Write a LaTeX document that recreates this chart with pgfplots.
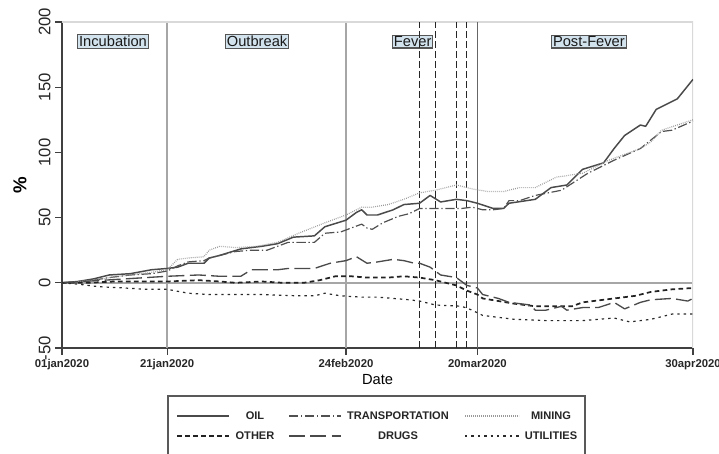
\documentclass[border=0pt]{standalone}
\usepackage{fontspec}
\setmainfont{Liberation Sans}
\setsansfont{Liberation Sans}
\usepackage{pgfplots}
\pgfplotsset{compat=1.18}
\definecolor{oilc}{HTML}{4A4A4A}
\definecolor{trac}{HTML}{505050}
\definecolor{minc}{HTML}{999999}
\definecolor{othc}{HTML}{222222}
\definecolor{drgc}{HTML}{4A4A4A}
\definecolor{utic}{HTML}{2A2A2A}
\definecolor{phasefill}{HTML}{D3E3EE}
\definecolor{phasedraw}{HTML}{555555}
\tikzset{
 oilst/.style={oilc, line width=1.1pt},
 trast/.style={trac, line width=0.9pt, dash pattern=on 7pt off 2pt on 1pt off 2pt},
 minst/.style={minc, line width=0.9pt, dash pattern=on 0.6pt off 0.9pt},
 othst/.style={othc, line width=1.3pt, dash pattern=on 3.5pt off 2.5pt},
 drgst/.style={drgc, line width=1pt, dash pattern=on 12pt off 4pt},
 utist/.style={utic, line width=0.9pt, dash pattern=on 1.8pt off 3pt},
 legtxt/.style={font=\fontsize{8.3}{10}\selectfont\bfseries, text=black!85, inner sep=0pt, anchor=center},
}
\begin{document}
\begin{tikzpicture}
\begin{axis}[
 width=473.25pt, height=244.5pt, scale only axis,
 xmin=0, xmax=120, ymin=-50, ymax=200,
 axis x line*=bottom, axis y line*=left,
 axis line style={line width=1.4pt, color=black!75, -},
 xtick={0,20,54,79,120},
 xticklabels={01jan2020,21jan2020,24feb2020,20mar2020,30apr2020},
 ytick={-50,0,50,100,150,200},
 tick align=outside,
 major tick length=5pt,
 tick style={line width=1pt, black!75},
 xticklabel style={font=\fontsize{8.5}{10}\selectfont\bfseries, text=black!85},
 yticklabel style={rotate=90, anchor=south, font=\fontsize{12.5}{14}\selectfont, text=black!85},
 /pgf/number format/assume math mode=true,
 xlabel={Date},
 xlabel style={at={(axis description cs:0.5,-0.098)}, anchor=center, font=\fontsize{11}{13}\selectfont},
 ylabel={\%},
 ylabel style={at={(axis description cs:-0.0666,0.5)}, anchor=center, font=\fontsize{14}{16}\selectfont\bfseries},
 no markers,
 every axis plot/.append style={line join=round},
]
% reference lines
\draw[black!35, line width=1.1pt] (axis cs:20,-50) -- (axis cs:20,200);
\draw[black!35, line width=1.1pt] (axis cs:54,-50) -- (axis cs:54,200);
\draw[black!35, line width=1.1pt] (axis cs:0,0) -- (axis cs:120,0);
\draw[black!15, line width=0.8pt] (rel axis cs:0,1) -- (rel axis cs:1,1) -- (rel axis cs:1,0);
% phase labels
\node[fill=phasefill, draw=phasedraw, line width=0.8pt, inner xsep=1pt, inner ysep=1pt, font=\fontsize{11}{12}\selectfont, text=black!90] at (axis cs:9.7,185) {Incubation};
\node[fill=phasefill, draw=phasedraw, line width=0.8pt, inner xsep=1pt, inner ysep=1pt, font=\fontsize{11}{12}\selectfont, text=black!90] at (axis cs:37.1,185) {Outbreak};
\node[fill=phasefill, draw=phasedraw, line width=0.8pt, inner xsep=1pt, inner ysep=1pt, font=\fontsize{11}{12}\selectfont, text=black!90] at (axis cs:66.7,185) {Fever};
\node[fill=phasefill, draw=phasedraw, line width=0.8pt, inner xsep=1pt, inner ysep=1pt, font=\fontsize{11}{12}\selectfont, text=black!90] at (axis cs:100.2,185) {Post-Fever};
\draw[black!60, line width=1.2pt] (axis cs:79,-50) -- (axis cs:79,200);
\pgfplotsinvokeforeach{68,71,75,77}{
 \draw[black!85, line width=0.9pt, dash pattern=on 5pt off 2.5pt] (axis cs:#1,-50) -- (axis cs:#1,200);
}
% OIL
\addplot[oilst] coordinates {
(0,0) (3,1) (6,3) (9,6) (13,7) (17,10) (20,11) (22,12) (24,15) (27,15) (28,19) (30,21) (34,26) (38,28) (41,30) (44,35) (48,36) (50,43) (54,48) (56,54) (57,56) (58,52) (60,52) (63,56) (65,60) (68,61) (70,67) (72,62) (75,64) (77,63) (79,61) (82,57) (84,57) (85,61) (90,64) (93,73) (96,75) (99,87) (103,92) (105,103) (107,113) (110,121) (111,120) (113,133) (117,141) (120,156)};
% TRANSPORTATION
\addplot[trast] coordinates {
(0,0) (3,1) (6,2) (9,4) (13,6) (17,7) (20,9) (22,13) (24,16) (27,17) (28,19) (30,21) (33,24) (36,25) (39,25) (43,31) (48,31) (50,38) (53,39) (55,42) (57,45) (58,42) (59,41) (61,46) (64,51) (66,53) (68,57) (72,57) (76,57) (78,58) (80,56) (82,56) (84,57) (85,63) (87,63) (90,67) (95,71) (100,84) (105,94) (110,103) (114,116) (116,117) (120,124)};
% MINING
\addplot[minst] coordinates {
(0,0) (3,1) (6,2) (9,4) (13,6) (17,8) (20,10) (22,18) (24,19) (27,20) (28,25) (30,28) (33,27) (37,28) (41,31) (45,38) (50,46) (54,52) (55,54) (57,58) (59,58) (62,60) (65,64) (68,69) (71,71) (75,75) (78,72) (81,70) (84,70) (87,73) (90,73) (94,81) (99,84) (104,94) (110,103) (112,108) (114,117) (117,121) (120,125)};
% OTHER
\addplot[othst] coordinates {
(0,0) (5,0) (10,1) (15,1) (20,1) (26,2) (30,1) (33,0) (38,1) (42,0) (46,0) (49,2) (52,5) (55,5) (58,4) (62,4) (65,5) (68,4) (71,2) (75,-2) (77,-6) (79,-9) (80,-12) (83,-14) (86,-16) (90,-18) (94,-18) (97,-18) (99,-15) (105,-12) (109,-10) (112,-7) (116,-5) (120,-4)};
% DRUGS
\addplot[drgst] coordinates {
(0,0) (4,1) (8,2) (12,3) (16,4) (20,5) (26,6) (30,5) (34,5) (36,10) (41,10) (43,11) (48,11) (51,15) (54,17) (56,20) (58,15) (60,16) (63,18) (65,17) (67,15) (68,15) (70,12) (72,6) (75,4) (77,-2) (79,-4) (80,-9) (83,-12) (85,-15) (89,-17) (90,-21) (92,-21) (95,-18) (96,-21) (99,-19) (102,-19) (105,-15) (107,-20) (110,-15) (112,-13) (116,-12) (119,-14) (120,-12)};
% UTILITIES
\addplot[utist] coordinates {
(0,0) (3,-1) (7,-3) (12,-4) (16,-5) (20,-5) (24,-8) (28,-9) (33,-9) (38,-9) (45,-10) (48,-10) (50,-8) (53,-10) (57,-11) (60,-11) (63,-12) (66,-13) (68,-14) (71,-17) (76,-18) (78,-21) (80,-25) (86,-28) (92,-29) (99,-29) (105,-27) (108,-30) (112,-28) (116,-24) (120,-24)};
\coordinate (bl) at (rel axis cs:0,0);
\coordinate (tr) at (rel axis cs:1,1);
\end{axis}
% legend
\draw[black!65, line width=0.9pt, fill=white] ([xshift=79.5pt,yshift=-36pt]bl) rectangle ([xshift=392.25pt,yshift=-86pt]bl);
\draw[oilst] ([xshift=86.25pt,yshift=-51pt]bl) -- ([xshift=125.25pt,yshift=-51pt]bl);
\node[legtxt] at ([xshift=144.75pt,yshift=-51pt]bl) {OIL};
\draw[trast] ([xshift=170.25pt,yshift=-51pt]bl) -- ([xshift=209.25pt,yshift=-51pt]bl);
\node[legtxt] at ([xshift=252pt,yshift=-51pt]bl) {TRANSPORTATION};
\draw[minst] ([xshift=302.25pt,yshift=-51pt]bl) -- ([xshift=342.75pt,yshift=-51pt]bl);
\node[legtxt] at ([xshift=366.75pt,yshift=-51pt]bl) {MINING};
\draw[othst] ([xshift=86.25pt,yshift=-66pt]bl) -- ([xshift=125.25pt,yshift=-66pt]bl);
\node[legtxt] at ([xshift=144.75pt,yshift=-66pt]bl) {OTHER};
\draw[drgst] ([xshift=170.25pt,yshift=-66pt]bl) -- ([xshift=209.25pt,yshift=-66pt]bl);
\node[legtxt] at ([xshift=252pt,yshift=-66pt]bl) {DRUGS};
\draw[utist] ([xshift=302.25pt,yshift=-66pt]bl) -- ([xshift=342.75pt,yshift=-66pt]bl);
\node[legtxt] at ([xshift=366.75pt,yshift=-66pt]bl) {UTILITIES};
\pgfresetboundingbox
\path[use as bounding box] ([xshift=-46.5pt,yshift=-78.75pt]bl) rectangle ([xshift=19.5pt,yshift=16.5pt]tr);
\end{tikzpicture}
\end{document}
